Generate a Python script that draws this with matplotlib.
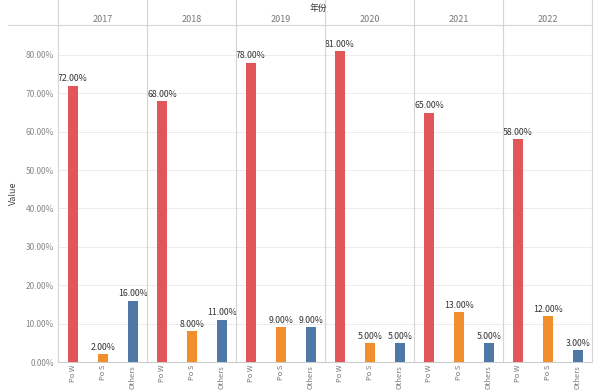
import matplotlib.pyplot as plt
from matplotlib.lines import Line2D

plt.rcParams['font.family'] = ['Noto Sans CJK SC', 'DejaVu Sans']

years = ['2017', '2018', '2019', '2020', '2021', '2022']
cats = ['Po W', 'Po S', 'Others']
po_w = [72, 68, 78, 81, 65, 58]
po_s = [2, 8, 9, 5, 13, 12]
others = [16, 11, 9, 5, 5, 3]
colors = ['#e15759', '#f28e2b', '#4e79a7']

W, H = 600, 390
fig, axes = plt.subplots(1, 6, sharey=True, figsize=(6, 3.9), dpi=100)
fig.subplots_adjust(left=58/W, right=592/W, bottom=28/H, top=365/H, wspace=0)

grid_c = '#ececec'
sep_c = '#d4d4d4'
for i, ax in enumerate(axes):
    vals = [po_w[i], po_s[i], others[i]]
    ax.bar(range(3), vals, width=0.33, color=colors, zorder=3)
    for x, v in enumerate(vals):
        ax.text(x, v + 0.6, f'{v:.2f}%', ha='center', va='bottom',
                fontsize=6.3, color='#333333', zorder=4)
    ax.set_xlim(-0.5, 2.47)
    ax.set_ylim(0, 87.8)
    ax.set_yticks(range(0, 81, 10))
    ax.yaxis.grid(True, color=grid_c, lw=0.7, zorder=0)
    ax.set_xticks(range(3))
    ax.set_xticklabels(cats, rotation=90, fontsize=5.4, color='#777777')
    ax.tick_params(axis='x', length=0, pad=2)
    ax.tick_params(axis='y', length=0, pad=3)
    for s in ['top', 'left', 'right']:
        ax.spines[s].set_visible(False)
    ax.spines['bottom'].set_color('#cccccc')
    ax.spines['bottom'].set_linewidth(0.8)
    if i == 0:
        ax.set_yticklabels([f'{t:.2f}%' for t in range(0, 81, 10)],
                           fontsize=6, color='#888888')
        ax.set_ylabel('Value', fontsize=6.5, color='#444444')
        ax.yaxis.set_label_coords(-40/89, 0.5)
    ax.text(0.5, 1.0 + 6/337, years[i], transform=ax.transAxes,
            ha='center', va='center', fontsize=6.5, color='#777777')

# panel separators running up through header
x0, x1 = 58/W, 592/W
for k in range(7):
    xf = x0 + (x1 - x0) * k / 6
    fig.add_artist(Line2D([xf, xf], [28/H, 1], color=sep_c, lw=0.8))
fig.add_artist(Line2D([8/W, x1], [1 - 25/H, 1 - 25/H], color=sep_c, lw=0.8))
fig.text(318/W, 1 - 8/H, '年份', ha='center', va='center', fontsize=6.3, color='#333333')

fig.savefig('out.png', dpi=100, facecolor='white')
